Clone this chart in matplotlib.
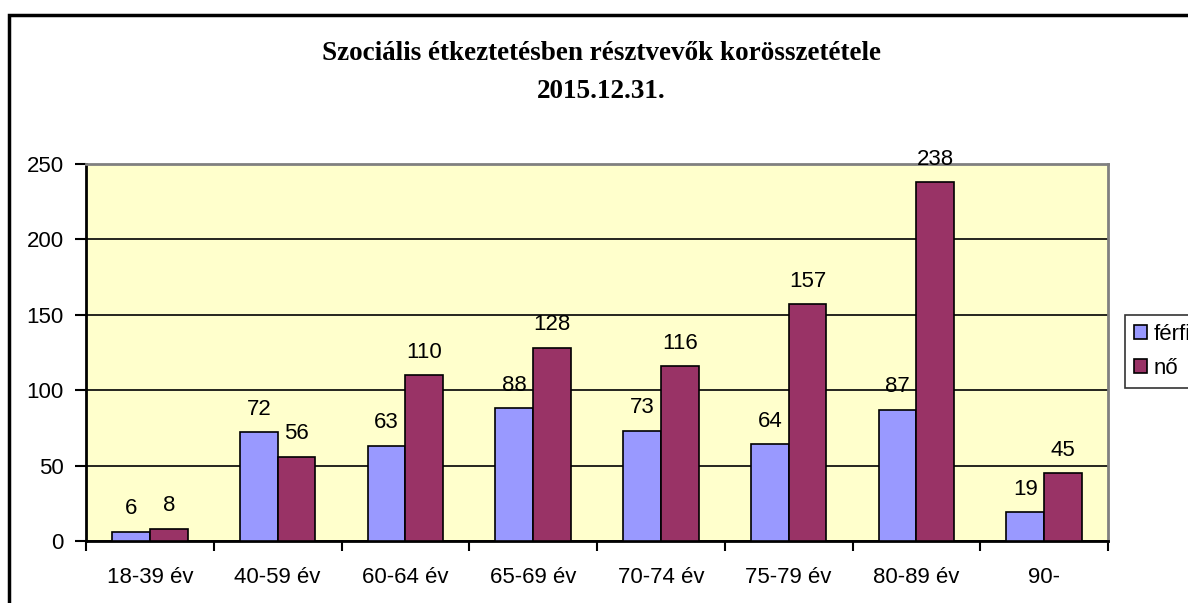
import numpy as np
import matplotlib
matplotlib.use("Agg")
import matplotlib.pyplot as plt
from matplotlib.patches import Rectangle

# adatok
korcsoportok = ["18-39 év", "40-59 év", "60-64 év", "65-69 év", "70-74 év", "75-79 év", "80-89 év", "90-"]
ferfi = [6, 72, 63, 88, 73, 64, 87, 19]
no = [8, 56, 110, 128, 116, 157, 238, 45]
cim1 = "Szociális étkeztetésben résztvevők korösszetétele"
cim2 = "2015.12.31."

plt.rcParams['font.family'] = ['Liberation Sans', 'DejaVu Sans']
fs = 16

fig = plt.figure(figsize=(11.88, 6.03), dpi=100)
ax = fig.add_axes([86/1188, 62/603, 1022/1188, 377/603])

# keret a diagram körül
fig.patches.append(Rectangle((9/1188, -0.5), 1.2, 1.5 - 15/603, transform=fig.transFigure,
                             fill=False, edgecolor='black', linewidth=2.5, zorder=0))

x = np.arange(len(korcsoportok))
w = 0.295
b1 = ax.bar(x - w/2, ferfi, w, color='#9999FF', edgecolor='black', linewidth=1.2, label='férfi', zorder=3)
b2 = ax.bar(x + w/2, no, w, color='#993366', edgecolor='black', linewidth=1.2, label='nő', zorder=3)

for bars, vals in ((b1, ferfi), (b2, no)):
	for r, v in zip(bars, vals):
		ax.annotate(str(v), xy=(r.get_x() + r.get_width()/2, v), xytext=(0, 9),
		            textcoords='offset points', ha='center', va='bottom', fontsize=fs)

ax.set_facecolor('#FFFFCC')
ax.set_xlim(-0.5, len(korcsoportok) - 0.5)
ax.set_ylim(0, 250)
ax.set_yticks([0, 50, 100, 150, 200, 250])
ax.yaxis.grid(True, color='black', linewidth=1.2, zorder=1)
ax.set_axisbelow(True)

ax.set_xticks(x)
ax.set_xticklabels(korcsoportok, fontsize=fs)
ax.set_xticks(np.arange(len(korcsoportok) + 1) - 0.5, minor=True)
ax.tick_params(axis='x', which='major', length=0, pad=18.5)
ax.tick_params(axis='x', which='minor', length=7, width=1.5, color='black')
ax.tick_params(axis='y', length=8, width=1.5, labelsize=fs, pad=8)

ax.spines['left'].set_linewidth(2)
ax.spines['bottom'].set_linewidth(2)
ax.spines['top'].set_color('#808080')
ax.spines['right'].set_color('#808080')
ax.spines['top'].set_linewidth(2)
ax.spines['right'].set_linewidth(2)

serif = ['Liberation Serif', 'DejaVu Serif']
fig.text(0.506, 1 - 54/603, cim1, ha='center', va='center', fontsize=19.5, fontweight='bold', family=serif)
fig.text(0.506, 1 - 91/603, cim2, ha='center', va='center', fontsize=19.5, fontweight='bold', family=serif)

leg = fig.legend(loc='upper left', bbox_to_anchor=(1125/1188, 1 - 315/603), fontsize=fs,
                 frameon=True, fancybox=False, handlelength=0.6, handleheight=0.6,
                 handletextpad=0.3, borderpad=0.4, labelspacing=0.6, borderaxespad=0)
leg.get_frame().set_edgecolor('black')
leg.get_frame().set_linewidth(1.2)

fig.savefig('out.png', dpi=100)
